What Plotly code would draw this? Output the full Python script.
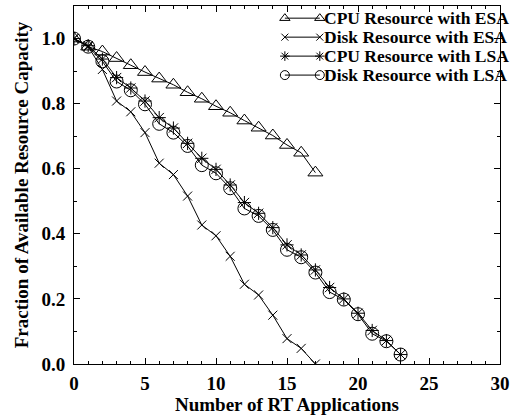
import plotly.graph_objects as go

apps_esa_cpu = list(range(0, 18))
cpu_esa = [1.0, 0.975, 0.96, 0.94, 0.918, 0.897, 0.877, 0.858, 0.835, 0.815,
           0.792, 0.772, 0.748, 0.726, 0.702, 0.673, 0.649, 0.588]

apps_esa_disk = list(range(0, 18))
disk_esa = [1.0, 0.975, 0.905, 0.808, 0.775, 0.711, 0.617, 0.582, 0.516, 0.427,
            0.394, 0.331, 0.245, 0.212, 0.15, 0.078, 0.048, 0.0]

apps_lsa = list(range(0, 24))
cpu_lsa = [1.0, 0.978, 0.937, 0.88, 0.848, 0.808, 0.757, 0.725, 0.678, 0.632,
           0.598, 0.55, 0.496, 0.463, 0.419, 0.366, 0.335, 0.289, 0.235, 0.2,
           0.156, 0.103, 0.072, 0.029]
disk_lsa = [1.0, 0.975, 0.93, 0.868, 0.841, 0.798, 0.738, 0.711, 0.67, 0.611,
            0.586, 0.54, 0.478, 0.455, 0.412, 0.351, 0.328, 0.281, 0.221, 0.198,
            0.153, 0.093, 0.07, 0.029]

names = ["CPU Resource with ESA", "Disk Resource with ESA",
         "CPU Resource with LSA", "Disk Resource with LSA"]
symbols = ["triangle-up-open", "x-thin-open", "asterisk-open", "circle-open"]
sizes = [13, 9, 11, 13]
legend_sizes = [9, 7, 8, 9]

xs = [apps_esa_cpu, apps_esa_disk, apps_lsa, apps_lsa]
ys = [cpu_esa, disk_esa, cpu_lsa, disk_lsa]

FONT = "Liberation Serif"

fig = go.Figure()
for x, y, n, s, sz in zip(xs, ys, names, symbols, sizes):
    fig.add_trace(go.Scatter(
        x=x, y=y, mode="lines+markers", name=n, showlegend=False,
        line=dict(color="black", width=1),
        marker=dict(symbol=s, size=sz, color="black",
                    line=dict(color="black", width=1)),
    ))

# custom gnuplot-style legend on a hidden overlay axis (0..1 box units)
leg_x0, leg_x1 = 0.495, 0.577
leg_y = [0.966, 0.913, 0.860, 0.807]
for i, (n, s, sz) in enumerate(zip(names, symbols, legend_sizes)):
    fig.add_trace(go.Scatter(
        x=[leg_x0, leg_x1], y=[leg_y[i], leg_y[i]], xaxis="x2", yaxis="y2",
        mode="lines+markers", showlegend=False, hoverinfo="skip",
        line=dict(color="black", width=1),
        marker=dict(symbol=s, size=sz, color="black",
                    line=dict(color="black", width=1)),
    ))
    fig.add_annotation(
        x=leg_x1 + 0.006, y=leg_y[i], xref="x2", yref="y2",
        text="<b>%s</b>" % n, showarrow=False, xanchor="left", yanchor="middle",
        font=dict(family=FONT, size=17.5, color="black"),
    )

axis_common = dict(
    showline=True, linecolor="black", linewidth=1, mirror="ticks",
    ticks="inside", ticklen=6, tickcolor="black", tickwidth=1,
    showgrid=False, zeroline=False, automargin=False,
    tickfont=dict(family=FONT, size=19, color="black"),
)

fig.update_layout(
    width=517, height=418,
    margin=dict(l=74, r=17, t=6, b=54),
    paper_bgcolor="white", plot_bgcolor="white",
    xaxis=dict(
        range=[0, 30], tickvals=[0, 5, 10, 15, 20, 25, 30],
        ticktext=["<b>%d</b>" % v for v in [0, 5, 10, 15, 20, 25, 30]],
        minor=dict(dtick=1, ticks="inside", ticklen=3, tickcolor="black", showgrid=False),
        ticklabelstandoff=2,
        title=dict(text="<b>Number of RT Applications</b>",
                   font=dict(family=FONT, size=19, color="black"), standoff=4),
        **axis_common,
    ),
    yaxis=dict(
        range=[0, 1.1], tickvals=[0, 0.2, 0.4, 0.6, 0.8, 1.0],
        ticktext=["<b>%.1f</b>" % v for v in [0, 0.2, 0.4, 0.6, 0.8, 1.0]],
        minor=dict(dtick=0.1, ticks="inside", ticklen=3, tickcolor="black", showgrid=False),
        ticklabelstandoff=4,
        title=dict(text="<b>Fraction of Available Resource Capacity</b>",
                   font=dict(family=FONT, size=19, color="black"), standoff=7),
        **axis_common,
    ),
    xaxis2=dict(range=[0, 1], overlaying="x", visible=False),
    yaxis2=dict(range=[0, 1], overlaying="y", visible=False),
)

fig.write_html("out.html", config={"displayModeBar": False},
               post_script="document.body.style.margin='0';")
